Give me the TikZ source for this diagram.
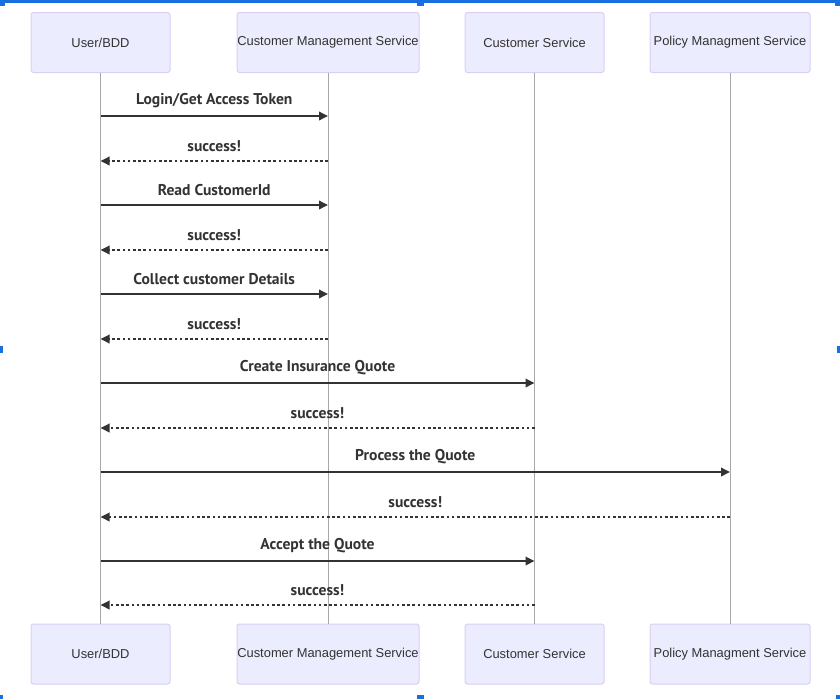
\documentclass[tikz,border=0pt]{standalone}
\usepackage{fontspec}
\setmainfont{Liberation Sans}
\newfontfamily\msgfont{PT Sans}
\usetikzlibrary{arrows.meta,calc}

\definecolor{actorfill}{HTML}{ECECFF}
\definecolor{actorline}{HTML}{DACEF3}
\definecolor{ink}{HTML}{333333}
\definecolor{lifegray}{HTML}{A8A8A8}
\definecolor{selblue}{HTML}{1A6FE0}

\begin{document}
\begin{tikzpicture}[x=1pt,y=-1pt,
  actor/.style={draw=actorline, line width=1pt, fill=actorfill, rounded corners=2.5pt,
    minimum height=60pt, inner sep=0pt, text=ink, font=\fontsize{12.9}{14}\selectfont},
  lifeline/.style={draw=lifegray, line width=0.9pt},
  callmsg/.style={draw=ink, line width=1.8pt, -{Triangle[length=9pt,width=8.5pt]}},
  replymsg/.style={draw=ink, line width=1.8pt, dash pattern=on 2.6pt off 2.6pt,
    -{Triangle[length=9pt,width=8.5pt]}},
  msglabel/.style={text=ink, font=\msgfont\bfseries\fontsize{15.6}{17}\selectfont, inner sep=0pt},
  handle/.style={fill=selblue, draw=none}
]
\useasboundingbox (0,0) rectangle (840,699);

% selection frame of the embedded drawing
\fill[selblue] (0,0) rectangle (840,2.5);
\path[handle] (0,0) rectangle (5,6);
\path[handle] (416.5,0) rectangle (423.5,6);
\path[handle] (835,0) rectangle (840,6);
\path[handle] (0,346) rectangle (3,353);
\path[handle] (837,346) rectangle (840,353);
\path[handle] (0,695) rectangle (3,699);
\path[handle] (416.5,695) rectangle (423.5,699);
\path[handle] (836,695) rectangle (840,699);

% participants, top row
\node[actor, minimum width=139pt] (ut) at (100.5,42.5) {User/BDD};
\node[actor, minimum width=182pt] (mt) at (328,42.5) {Customer Management Service};
\node[actor, minimum width=139pt] (ct) at (534.5,42.5) {Customer Service};
\node[actor, minimum width=160pt] (pt) at (730,42.5) {Policy Managment Service};

% participants, bottom row
\node[actor, minimum width=139pt] (ub) at (100.5,654) {User/BDD};
\node[actor, minimum width=182pt] (mb) at (328,654) {Customer Management Service};
\node[actor, minimum width=139pt] (cb) at (534.5,654) {Customer Service};
\node[actor, minimum width=160pt] (pb) at (730,654) {Policy Managment Service};

% lifelines
\foreach \a/\b in {ut/ub, mt/mb, ct/cb, pt/pb}
  \draw[lifeline] (\a.south) -- (\b.north);

% messages: y / sender / receiver / style / text
\foreach \yy/\src/\dst/\kind/\txt in {
    116/ut/mt/callmsg/{Login/Get Access Token},
    161/mt/ut/replymsg/{success!},
    205/ut/mt/callmsg/{Read CustomerId},
    250/mt/ut/replymsg/{success!},
    294/ut/mt/callmsg/{Collect customer Details},
    339/mt/ut/replymsg/{success!},
    383/ut/ct/callmsg/{Create Insurance Quote},
    428/ct/ut/replymsg/{success!},
    472/ut/pt/callmsg/{Process the Quote},
    517/pt/ut/replymsg/{success!},
    561/ut/ct/callmsg/{Accept the Quote},
    605/ct/ut/replymsg/{success!}}{
  \coordinate (s) at (\src.south |- 0,\yy);
  \coordinate (d) at (\dst.south |- 0,\yy);
  \draw[\kind] (s) -- (d);
  \node[msglabel] at ($ (s)!0.5!(d) + (0,-15) $) {\txt};
}
\end{tikzpicture}
\end{document}
